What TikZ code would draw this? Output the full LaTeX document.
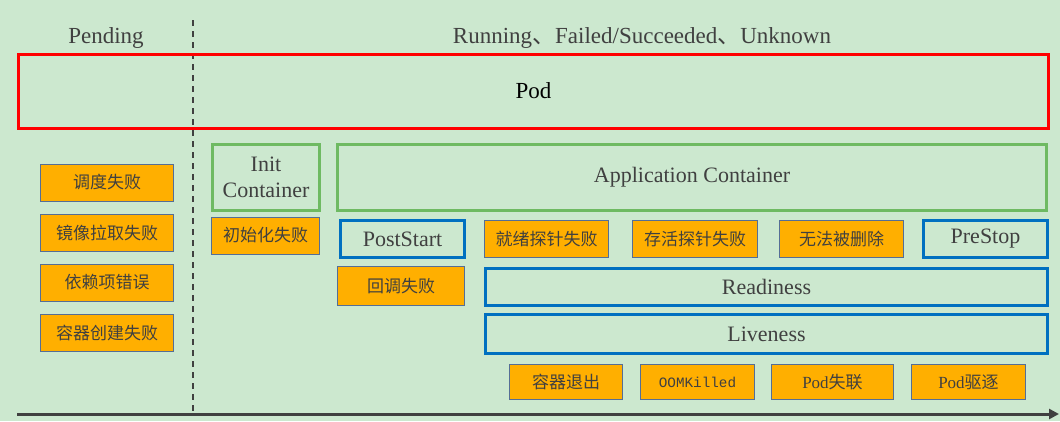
\documentclass[tikz,border=0pt]{standalone}
\usepackage{fontspec}
\setmainfont{Liberation Serif}
\setmonofont{Liberation Mono}
\newfontfamily\cjk{Noto Sans CJK SC}
\usetikzlibrary{arrows.meta,positioning}
\definecolor{bgmint}{RGB}{204,232,207}
\definecolor{failorange}{RGB}{255,175,0}
\definecolor{failedge}{RGB}{85,110,150}
\definecolor{stagegreen}{RGB}{110,186,98}
\definecolor{hookblue}{RGB}{0,112,192}
\definecolor{podred}{RGB}{255,0,0}
\definecolor{inkgray}{RGB}{64,64,64}
\tikzset{
    failbox/.style={
        rectangle,
        draw=failedge,
        line width=0.9pt,
        fill=failorange,
        inner sep=0pt,
        minimum height=37pt,
        text=inkgray,
        font=\fontsize{17}{19}\selectfont\cjk
    },
    stagebox/.style={
        rectangle,
        draw=stagegreen,
        line width=3pt,
        inner sep=0pt,
        minimum height=66pt,
        align=center,
        text=inkgray,
        font=\fontsize{22}{25}\selectfont
    },
    hookbox/.style={
        rectangle,
        draw=hookblue,
        line width=3pt,
        inner sep=0pt,
        minimum height=37pt,
        text=inkgray,
        font=\fontsize{22}{25}\selectfont
    }
}
\begin{document}
\begin{tikzpicture}[
        x=1pt, y=-1pt,
        phase/.style={text=inkgray, font=\fontsize{23}{26}\selectfont},
        timeline/.style={draw=inkgray, line width=3pt, -{Triangle[length=10pt,width=10pt]}},
        divider/.style={draw=inkgray, line width=1.4pt, dash pattern=on 5.5pt off 5.5pt}
    ]
    \fill[bgmint] (0,0) rectangle (1060,421);
    \useasboundingbox (0,0) rectangle (1060,421);

    % phases
    \node[phase] (pending) at (106,38) {Pending};
    \node[phase] (running) at (642,38) {Running{\cjk 、}Failed/Succeeded{\cjk 、}Unknown};
    \coordinate (divtop) at (193,20);
    \coordinate (divbot) at (193,413);
    \draw[divider] (divtop) -- (divbot);

    % pod
    \node[draw=podred, line width=3pt, inner sep=0pt,
          minimum width=1030pt, minimum height=74pt,
          font=\fontsize{23}{26}\selectfont] (pod) at (533.5,91) {Pod};

    % pending failures
    \node[failbox, minimum width=133pt] (sched)  at (107,182.5) {调度失败};
    \node[failbox, minimum width=133pt] (pull)   at (107,233)   {镜像拉取失败};
    \node[failbox, minimum width=133pt] (dep)    at (107,282.5) {依赖项错误};
    \node[failbox, minimum width=133pt] (create) at (107,332.5) {容器创建失败};

    % init container
    \node[stagebox, minimum width=107pt] (init) at (266,177) {Init\\[1pt]Container};
    \node[failbox, minimum width=108pt] (initfail) at (265.5,235.5) {初始化失败};

    % application container
    \node[stagebox, minimum width=709pt] (app) at (692,177) {Application Container};
    \node[hookbox, minimum width=124pt] (poststart) at (402.5,239) {PostStart};
    \node[failbox, minimum width=127pt, minimum height=39pt] (hookfail) at (401,286) {回调失败};
    \node[failbox, minimum width=124pt] (readyfail) at (546.5,239) {就绪探针失败};
    \node[failbox, minimum width=125pt] (livefail)  at (695,239)   {存活探针失败};
    \node[failbox, minimum width=124pt] (nodelete)  at (841.5,239) {无法被删除};
    \node[hookbox, minimum width=124pt] (prestop)   at (985.5,239) {PreStop};
    \node[hookbox, minimum width=562pt] (readiness) at (766.5,286.5) {Readiness};
    \node[hookbox, minimum width=562pt, minimum height=39pt] (liveness) at (766.5,334) {Liveness};

    % exits
    \node[failbox, minimum width=113pt, minimum height=35pt] (exit)  at (566,382)   {容器退出};
    \node[failbox, minimum width=114pt, minimum height=35pt,
          font=\fontsize{14.3}{16}\selectfont\ttfamily] (oom) at (697.5,382) {OOMKilled};
    \node[failbox, minimum width=122pt, minimum height=35pt] (lost)  at (832.5,382) {{\rmfamily Pod}失联};
    \node[failbox, minimum width=114pt, minimum height=35pt] (evict) at (968.5,382) {{\rmfamily Pod}驱逐};

    % time axis
    \coordinate (tstart) at (17,414);
    \coordinate (tend) at (1059,414);
    \draw[timeline] (tstart) -- (tend);
\end{tikzpicture}
\end{document}
